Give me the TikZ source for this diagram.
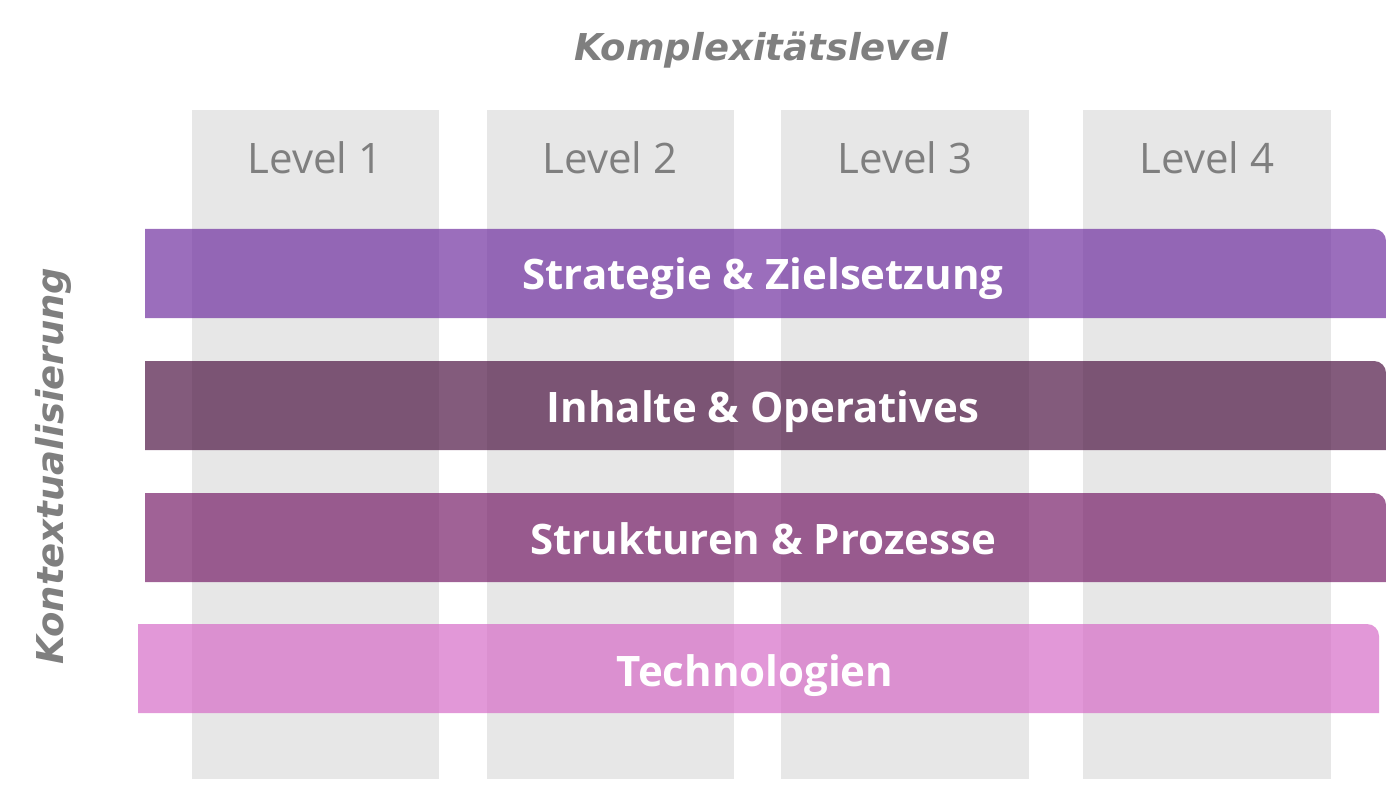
\documentclass[tikz,border=0pt]{standalone}
\usepackage{fontspec}
\setmainfont{Open Sans}
\newfontfamily\axisfont{DejaVu Sans}

\definecolor{colgray}{HTML}{E7E7E7}
\definecolor{txtgray}{HTML}{7F7F7F}
\definecolor{stratcol}{HTML}{7030A0}
\definecolor{inhaltcol}{HTML}{4E1644}
\definecolor{strukcol}{HTML}{771F69}
\definecolor{techcol}{HTML}{D66CC7}

\tikzset{
  levellabel/.style={text=txtgray, anchor=base, font=\fontsize{21}{25}\selectfont},
  barlabel/.style={text=white, anchor=base, font=\fontsize{21}{25}\selectfont\bfseries},
  axislabel/.style={text=txtgray, anchor=base, font=\axisfont\fontsize{18.5}{22}\selectfont\bfseries\itshape}
}

\begin{document}
\begin{tikzpicture}[x=0.5pt,y=-0.5pt]

  \useasboundingbox (0,0) rectangle (1386,802);

  % level columns
  \fill[colgray] (192,110) rectangle (439,779);
  \fill[colgray] (487,110) rectangle (734,779);
  \fill[colgray] (781,110) rectangle (1029,779);
  \fill[colgray] (1083,110) rectangle (1331,779);

  \node[levellabel] (lvl1) at (315,174) {Level 1};
  \node[levellabel] (lvl2) at (610,174) {Level 2};
  \node[levellabel] (lvl3) at (905,174) {Level 3};
  \node[levellabel] (lvl4) at (1207,174) {Level 4};

  \node[axislabel] (komplex) at (761,61) {Komplexitätslevel};
  \node[axislabel, rotate=90] (kontext) at (63,466) {Kontextualisierung};

  % bars
  \fill[stratcol, opacity=0.7] (145,318) -- (145,229) [rounded corners=6pt] -- (1386,229) [sharp corners] -- (1386,318) -- cycle;
  \fill[inhaltcol, opacity=0.7] (145,450) -- (145,361) [rounded corners=6pt] -- (1386,361) [sharp corners] -- (1386,450) -- cycle;
  \fill[strukcol, opacity=0.7] (145,582) -- (145,493) [rounded corners=6pt] -- (1386,493) [sharp corners] -- (1386,582) -- cycle;
  \fill[techcol, opacity=0.7] (138,713) -- (138,624) [rounded corners=6pt] -- (1379,624) [sharp corners] -- (1379,713) -- cycle;

  \node[barlabel] (strategie) at (763,290) {Strategie \& Zielsetzung};
  \node[barlabel] (inhalte) at (763,422) {Inhalte \& Operatives};
  \node[barlabel] (strukturen) at (763,554) {Strukturen \& Prozesse};
  \node[barlabel] (technologien) at (755,686) {Technologien};

\end{tikzpicture}
\end{document}
